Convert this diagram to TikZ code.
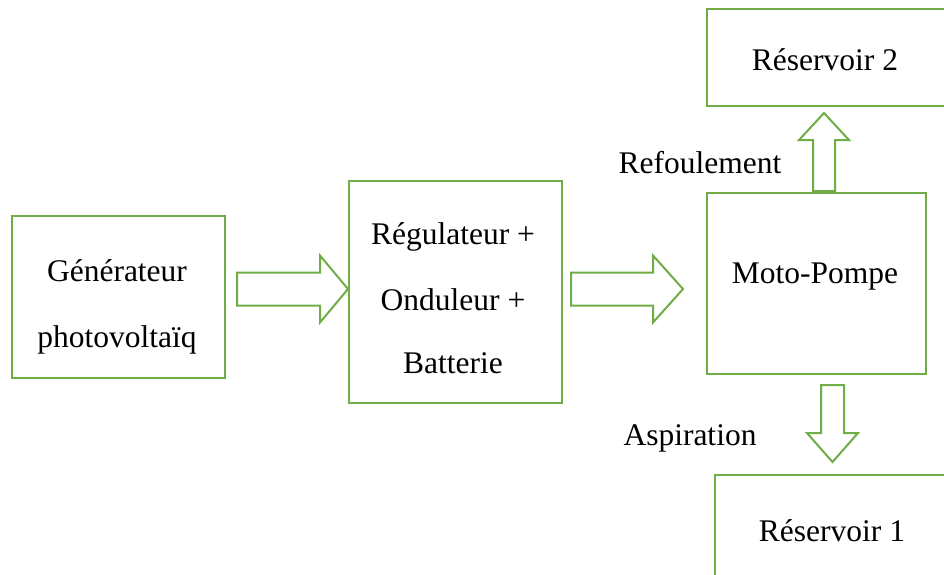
\documentclass[tikz,border=0pt]{standalone}
\usepackage{fontspec}
\setmainfont{Liberation Serif}
\definecolor{offgreen}{HTML}{70AD47}
\begin{document}
\begin{tikzpicture}[x=1pt,y=-1pt,
  box/.style={draw=offgreen, line width=2.6pt, inner sep=0pt, fill=white},
  barrow/.style={draw=offgreen, line width=2pt, line join=miter, fill=white},
  txt/.style={anchor=base, inner sep=0pt, font=\fontsize{31.5}{36}\selectfont}
]
\clip (0,0) rectangle (944,574);
\fill[white] (0,0) rectangle (944,574);
% boxes
\node[box, minimum width=213pt, minimum height=162pt] (gen) at (118.5,297) {};
\node[box, minimum width=213pt, minimum height=222pt] (reg) at (455.5,292) {};
\node[box, minimum width=219pt, minimum height=181pt] (moto) at (816.5,283.5) {};
\node[box, minimum width=250pt, minimum height=97pt] (res2) at (832,57.5) {};
\node[box, minimum width=250pt, minimum height=130pt] (res1) at (840,540) {};
% texts
\node[txt] (t1a) at (117,281) {Générateur};
\node[txt] (t1b) at (117,347) {photovoltaïq};
\node[txt] (t2a) at (453,244) {Régulateur +};
\node[txt] (t2b) at (453,310) {Onduleur +};
\node[txt] (t2c) at (453,373) {Batterie};
\node[txt] (t3) at (815,283) {Moto-Pompe};
\node[txt] (t4) at (825,70) {Réservoir 2};
\node[txt] (t5) at (832,541) {Réservoir 1};
\node[txt] (t6) at (700,173) {Refoulement};
\node[txt] (t7) at (690,445) {Aspiration};
% block arrows
\coordinate (a1s) at (237,289);
\coordinate (a1e) at (348,289);
\coordinate (a2s) at (571,289);
\coordinate (a2e) at (683,289);
\coordinate (us) at (824,191);
\coordinate (ue) at (824,113);
\coordinate (ds) at (832.5,385);
\coordinate (de) at (832.5,462);
\draw[barrow] (a1s) ++(0,-16.5) -- ++(83,0) -- ++(0,-17) -- (a1e) -- ++(-28,33.5) -- ++(0,-17) -- ++(-83,0) -- cycle;
\draw[barrow] (a2s) ++(0,-16.5) -- ++(82,0) -- ++(0,-17) -- (a2e) -- ++(-30,33.5) -- ++(0,-17) -- ++(-82,0) -- cycle;
\draw[barrow] (us) ++(-11,0) -- ++(0,-51) -- ++(-14,0) -- (ue) -- ++(25,27) -- ++(-14,0) -- ++(0,51) -- cycle;
\draw[barrow] (ds) ++(-11.5,0) -- ++(0,48) -- ++(-14,0) -- (de) -- ++(25.5,-29) -- ++(-14,0) -- ++(0,-48) -- cycle;
\end{tikzpicture}
\end{document}
